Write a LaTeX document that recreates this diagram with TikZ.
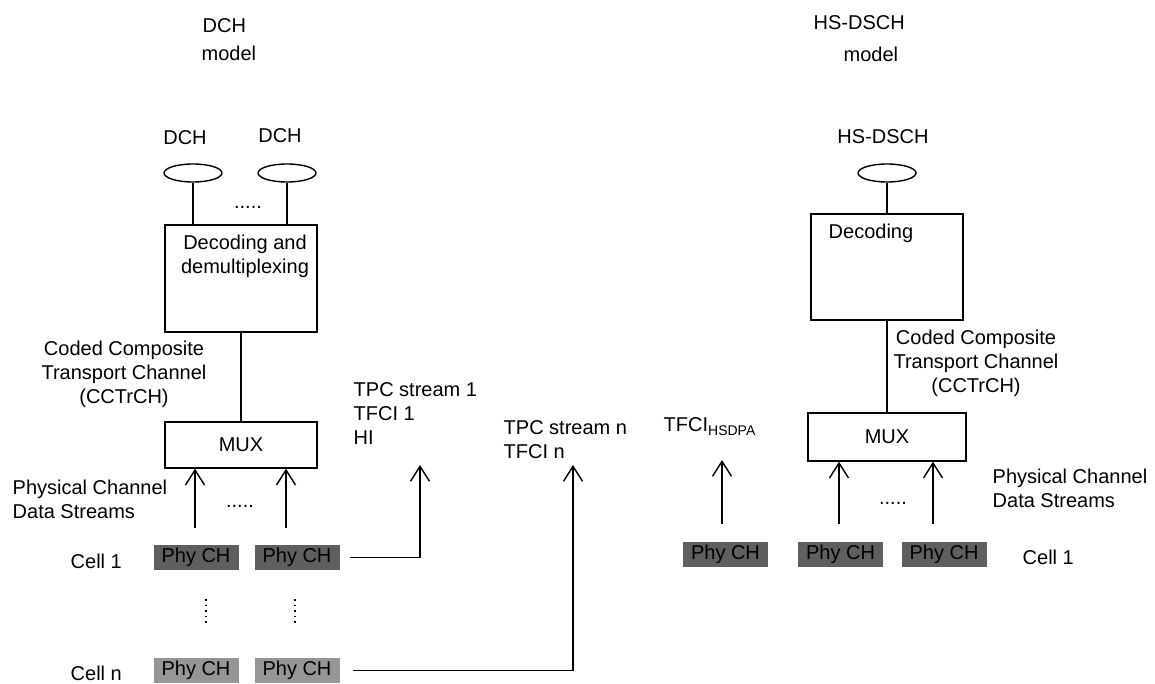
\documentclass[tikz,border=0pt]{standalone}
\usepackage{fontspec}
\setmainfont{Liberation Sans}
\usetikzlibrary{arrows.meta,shapes.geometric}
\definecolor{celldark}{HTML}{5F5F5F}
\definecolor{celllight}{HTML}{969696}

\begin{document}
\begin{tikzpicture}[x=0.5pt,y=-0.5pt,line width=0.7pt,line join=miter,
  font=\fontsize{10}{12}\selectfont,
  every node/.style={inner sep=0pt},
  box/.style={draw,rectangle},
  chan/.style={draw,ellipse,minimum width=29pt,minimum height=9pt},
  phych/.style={rectangle,text=black,minimum width=42.5pt,minimum height=12.5pt},
  up/.style={-{Straight Barb[length=7.5pt,width=9.5pt]}}]
  \useasboundingbox (0,0) rectangle (1155,684);

  % titles
  \node[anchor=west] (dchtitle) at (202,26) {DCH};
  \node[anchor=west] (dchmodel) at (201,53) {model};
  \node[anchor=west] (hstitle) at (813,23) {HS-DSCH};
  \node[anchor=west] (hsmodel) at (843,54) {model};

  % DCH model
  \node (dchlbl1) at (185,138) {DCH};
  \node (dchlbl2) at (280,136) {DCH};
  \node[chan] (dch1) at (193,173) {};
  \node[chan] (dch2) at (287,173) {};
  \node[box,minimum width=76pt,minimum height=53.5pt] (decdemux) at (241,278.5) {};
  \node[align=center] (decdemuxtxt) at (245,256) {Decoding and\\demultiplexing};
  \draw (dch1) -- (dch1 |- decdemux.north);
  \draw (dch2) -- (dch2 |- decdemux.north);
  \node (dchdots) at (248,207) {.....};
  \node[box,minimum width=76pt,minimum height=23pt] (mux1) at (241,445) {MUX};
  \draw (decdemux.south) -- (mux1.north);
  \node[align=center] (cctrch1) at (124,374) {Coded Composite\\Transport Channel\\(CCTrCH)};
  \node[anchor=west,align=left] (pcds1) at (12,499) {Physical Channel\\Data Streams};
  \foreach \x/\n in {196/1,297/2} {
    \node[phych,fill=celldark] (c1\n) at (\x,557.5) {Phy CH};
    \node[phych,fill=celllight] (cn\n) at (\x,670.5) {Phy CH};
  }
  \foreach \x/\n in {195/1,286/2} {
    \coordinate (s\n) at (\x,528);
    \draw[up] (s\n) -- (s\n |- mux1.south);
  }
  \node (muxdots1) at (240,506) {.....};
  \foreach \x in {206,295}
    \draw[dotted,line width=0.8pt] (\x,599) -- (\x,624);
  \node[anchor=west] (cell1) at (70,561) {Cell 1};
  \node[anchor=west] (celln) at (70,673) {Cell n};

  % TPC / TFCI streams
  \node[anchor=west,align=left] (tpc1) at (353,414) {TPC stream 1\\TFCI 1\\HI};
  \node[anchor=west,align=left] (tpcn) at (503,440) {TPC stream n\\TFCI n};
  \coordinate (tip1) at (420,465);
  \coordinate (tipn) at (573,465);
  \draw[up] ([xshift=5pt]c12.east) -| (tip1);
  \draw[up] ([xshift=6.5pt]cn2.east) -| (tipn);

  % HS-DSCH model
  \node (hslbl) at (883,137) {HS-DSCH};
  \node[chan] (hsdsch) at (887,173) {};
  \node[box,minimum width=76pt,minimum height=53pt] (dec) at (887,267) {};
  \node[anchor=west] (dectxt) at (828,233) {Decoding};
  \draw (hsdsch) -- (hsdsch |- dec.north);
  \node[box,minimum width=79pt,minimum height=24pt] (mux2) at (887,437) {MUX};
  \draw (dec.south) -- (mux2.north);
  \node[align=center] (cctrch2) at (976,363) {Coded Composite\\Transport Channel\\(CCTrCH)};
  \node[anchor=west] (tfcihs) at (663,427) {TFCI\raisebox{-2pt}{\fontsize{7}{8}\selectfont HSDPA}};
  \foreach \x/\n in {725.5/1,840.5/2,944/3}
    \node[phych,fill=celldark] (h\n) at (\x,554) {Phy CH};
  \coordinate (hs1) at (722,524);
  \coordinate (tfcitip) at (722,460);
  \draw[up] (hs1) -- (tfcitip);
  \foreach \x/\n in {839/2,933/3} {
    \coordinate (hs\n) at (\x,524);
    \draw[up] (hs\n) -- (hs\n |- mux2.south);
  }
  \node (muxdots2) at (893,503) {.....};
  \node[anchor=west,align=left] (pcds2) at (992,488) {Physical Channel\\Data Streams};
  \node[anchor=west] (cell1hs) at (1022,557) {Cell 1};
\end{tikzpicture}
\end{document}
